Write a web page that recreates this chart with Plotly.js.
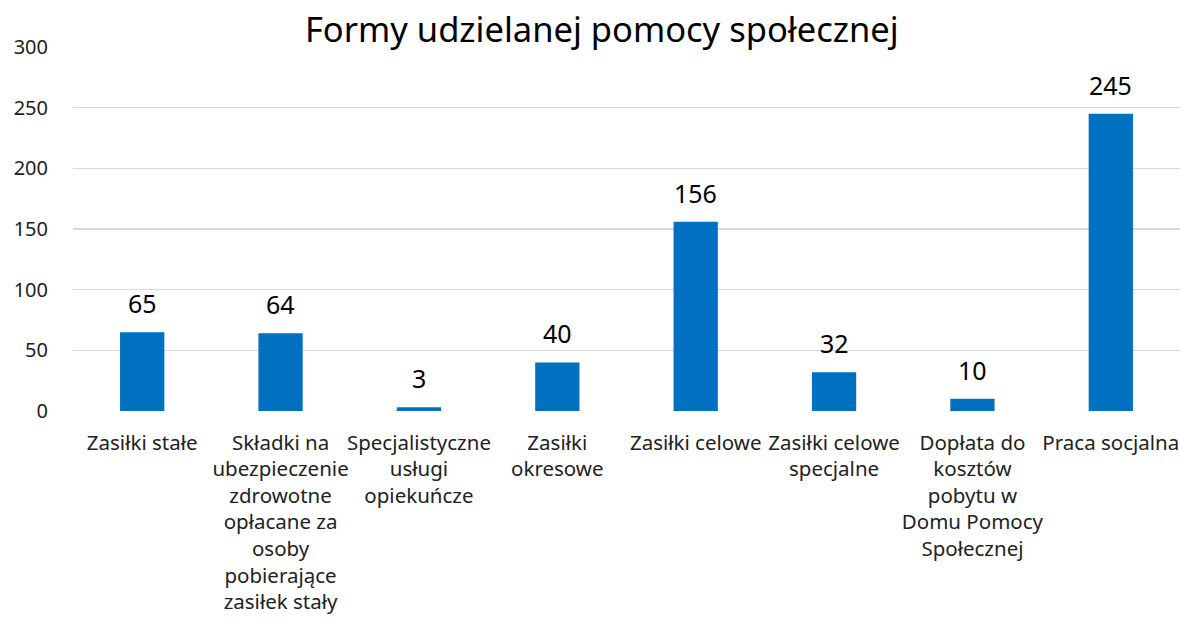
<!DOCTYPE html>
<html><head><meta charset="utf-8">
<script src="https://cdn.plot.ly/plotly-3.0.1.min.js"></script>
<style>html,body{margin:0;padding:0;background:#fff}#chart{width:1180px;height:623px}</style>
</head><body><div id="chart"></div>
<script>
const categories = ["Zasiłki stałe", "Składki na<br>ubezpieczenie<br>zdrowotne<br>opłacane za<br>osoby<br>pobierające<br>zasiłek stały", "Specjalistyczne<br>usługi<br>opiekuńcze", "Zasiłki<br>okresowe", "Zasiłki celowe", "Zasiłki celowe<br>specjalne", "Dopłata do<br>kosztów<br>pobytu w<br>Domu Pomocy<br>Społecznej", "Praca socjalna"];
const values = [65, 64, 3, 40, 156, 32, 10, 245];
const yTicks = [0, 50, 100, 150, 200, 250, 300];
const FONT = "Noto Sans, Open Sans, sans-serif";

const trace = {
  type: "bar", x: categories, y: values,
  marker: {color: "#0070C0"},
  hoverinfo: "x+y"
};
const annotations = categories.map((c, i) => ({
  x: c, y: values[i], xref: "x", yref: "y", text: String(values[i]),
  showarrow: false, yanchor: "bottom", yshift: 10,
  font: {family: FONT, size: 25, color: "#000"}
}));
const layout = {
  width: 1180, height: 623,
  margin: {l: 73, r: 0, t: 47, b: 212},
  paper_bgcolor: "#fff", plot_bgcolor: "#fff",
  title: {text: "Formy udzielanej pomocy społecznej", x: 0.51, xref: "container", y: 0.952, yanchor: "middle",
          font: {family: FONT, size: 34.5, color: "#000"}},
  bargap: 0.68,
  showlegend: false,
  xaxis: {type: "category", tickfont: {family: FONT, size: 20.5, color: "#222"}, showgrid: false, zeroline: false,
          showline: false, ticks: "", tickangle: 0, automargin: false, ticklabelstandoff: 17},
  yaxis: {range: [0, 300], tickvals: yTicks, showgrid: true, gridcolor: "#d9d9d9", gridwidth: 1.5,
          zeroline: false, showline: false, ticks: "", ticklabelstandoff: 24,
          tickfont: {family: FONT, size: 20, color: "#222"}, automargin: false, fixedrange: true},
  annotations: annotations
};
Plotly.newPlot("chart", [trace], layout, {displayModeBar: false, staticPlot: true});
</script></body></html>
